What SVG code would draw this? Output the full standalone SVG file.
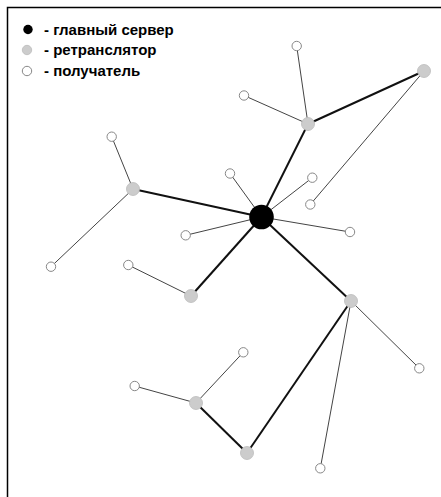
<svg xmlns="http://www.w3.org/2000/svg" width="441" height="497" viewBox="0 0 441 497">
<style>
.thick{stroke:#111;stroke-width:2;fill:none}
.thin{stroke:#444;stroke-width:1;fill:none}
.server{fill:#000}
.relay{fill:#ccc;stroke:#bbb;stroke-width:0.8}
.recv{fill:#fff;stroke:#888;stroke-width:1}
.lbl{font-family:"Liberation Sans",Arial,sans-serif;font-weight:bold;font-size:15px;fill:#000}
</style>
<rect x="0" y="0" width="441" height="497" fill="#fff"/>
<rect x="7.5" y="7.5" width="460" height="520" fill="none" stroke="#000" stroke-width="1.5"/>
<g id="legend">
<circle cx="28" cy="29.5" r="4.7" class="server"/>
<text x="44" y="34.5" class="lbl">- главный сервер</text>
<circle cx="27" cy="50" r="4.7" class="relay"/>
<text x="44" y="55" class="lbl">- ретранслятор</text>
<circle cx="27" cy="71" r="4.7" class="recv"/>
<text x="44" y="75.5" class="lbl">- получатель</text>
</g>
<g id="connectors">
<line class="thick" x1="261.5" y1="217" x2="308" y2="124"/>
<line class="thick" x1="308" y1="124" x2="424" y2="71"/>
<line class="thick" x1="261.5" y1="217" x2="133" y2="189"/>
<line class="thick" x1="261.5" y1="217" x2="191" y2="296"/>
<line class="thick" x1="261.5" y1="217" x2="351" y2="301"/>
<line class="thick" x1="351" y1="301" x2="247" y2="453"/>
<line class="thick" x1="247" y1="453" x2="196" y2="403"/>
<line class="thin" x1="308" y1="124" x2="296.7" y2="46"/>
<line class="thin" x1="308" y1="124" x2="244" y2="95.5"/>
<line class="thin" x1="424" y1="71" x2="310.3" y2="204.5"/>
<line class="thin" x1="261.5" y1="217" x2="230" y2="173.5"/>
<line class="thin" x1="261.5" y1="217" x2="312.3" y2="177.7"/>
<line class="thin" x1="261.5" y1="217" x2="350" y2="232"/>
<line class="thin" x1="261.5" y1="217" x2="185.7" y2="235.3"/>
<line class="thin" x1="133" y1="189" x2="111.7" y2="136.7"/>
<line class="thin" x1="133" y1="189" x2="51" y2="266.7"/>
<line class="thin" x1="191" y1="296" x2="128.3" y2="265"/>
<line class="thin" x1="351" y1="301" x2="419.3" y2="368.3"/>
<line class="thin" x1="351" y1="301" x2="320.3" y2="468.3"/>
<line class="thin" x1="196" y1="403" x2="243.3" y2="352.3"/>
<line class="thin" x1="196" y1="403" x2="134.7" y2="386"/>
</g>
<g id="server"><circle cx="261.5" cy="217" r="12.3" class="server"/></g>
<g id="relayA"><circle cx="308" cy="124" r="6.5" class="relay"/></g>
<g id="relayB"><circle cx="424" cy="71" r="6.5" class="relay"/></g>
<g id="relayC"><circle cx="133" cy="189" r="6.5" class="relay"/></g>
<g id="relayD"><circle cx="191" cy="296" r="6.5" class="relay"/></g>
<g id="relayE"><circle cx="351" cy="301" r="6.5" class="relay"/></g>
<g id="relayF"><circle cx="196" cy="403" r="6.5" class="relay"/></g>
<g id="relayG"><circle cx="247" cy="453" r="6.5" class="relay"/></g>
<g id="recv1"><circle cx="296.7" cy="46" r="4.7" class="recv"/></g>
<g id="recv2"><circle cx="244" cy="95.5" r="4.7" class="recv"/></g>
<g id="recv3"><circle cx="310.3" cy="204.5" r="4.7" class="recv"/></g>
<g id="recv4"><circle cx="230" cy="173.5" r="4.7" class="recv"/></g>
<g id="recv5"><circle cx="312.3" cy="177.7" r="4.7" class="recv"/></g>
<g id="recv6"><circle cx="350" cy="232" r="4.7" class="recv"/></g>
<g id="recv7"><circle cx="185.7" cy="235.3" r="4.7" class="recv"/></g>
<g id="recv8"><circle cx="111.7" cy="136.7" r="4.7" class="recv"/></g>
<g id="recv9"><circle cx="51" cy="266.7" r="4.7" class="recv"/></g>
<g id="recv10"><circle cx="128.3" cy="265" r="4.7" class="recv"/></g>
<g id="recv11"><circle cx="419.3" cy="368.3" r="4.7" class="recv"/></g>
<g id="recv12"><circle cx="320.3" cy="468.3" r="4.7" class="recv"/></g>
<g id="recv13"><circle cx="243.3" cy="352.3" r="4.7" class="recv"/></g>
<g id="recv14"><circle cx="134.7" cy="386" r="4.7" class="recv"/></g>
</svg>
